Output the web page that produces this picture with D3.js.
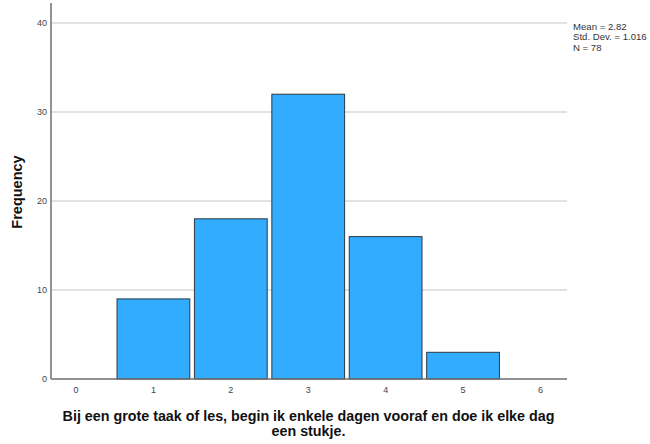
<!DOCTYPE html>
<html><head><meta charset="utf-8">
<script src="https://cdn.jsdelivr.net/npm/d3@7"></script>
<style>body{margin:0;background:#fff;} svg{display:block;}</style>
</head><body>
<svg id="c" width="650" height="444"></svg>
<script>
const categories = [1, 2, 3, 4, 5];
const frequencies = [9, 18, 32, 16, 3];
const xTicks = [0, 1, 2, 3, 4, 5, 6];
const yTicks = [0, 10, 20, 30, 40];
const statsLines = ["Mean = 2.82", "Std. Dev. = 1.016", "N = 78"];
const xTitleLines = ["Bij een grote taak of les, begin ik enkele dagen vooraf en doe ik elke dag", "een stukje."];
const yTitle = "Frequency";

(function () {
const svg = d3.select("#c");
const mLeft = 51, mRight = 567, mTop = 3, mBottom = 379;
const x = d3.scaleLinear().domain([-0.323, 6.343]).range([mLeft, mRight]);
const y = d3.scaleLinear().domain([0, 40]).range([mBottom, 23]);
const font = "Arial, 'Liberation Sans', sans-serif";

svg.append("g").selectAll("line").data(yTicks.filter(d => d > 0)).join("line")
  .attr("x1", mLeft).attr("x2", mRight)
  .attr("y1", d => y(d)).attr("y2", d => y(d))
  .attr("stroke", "#d9d9d9").attr("stroke-width", 1.5);

const hw = 0.47;
svg.append("g").selectAll("rect").data(categories).join("rect")
  .attr("x", d => x(d - hw))
  .attr("width", d => x(d + hw) - x(d - hw))
  .attr("y", (d, i) => y(frequencies[i]))
  .attr("height", (d, i) => mBottom - y(frequencies[i]))
  .attr("fill", "#31acfe").attr("stroke", "#2b3a44").attr("stroke-width", 1);

svg.append("line").attr("x1", mLeft).attr("x2", mLeft).attr("y1", mTop).attr("y2", mBottom)
  .attr("stroke", "#6e6e6e").attr("stroke-width", 1.5);
svg.append("line").attr("x1", mLeft).attr("x2", mRight).attr("y1", mBottom).attr("y2", mBottom)
  .attr("stroke", "#6e6e6e").attr("stroke-width", 1.5);

svg.append("g").selectAll("text").data(yTicks).join("text")
  .attr("x", mLeft - 4).attr("y", d => y(d)).attr("dy", "0.35em")
  .attr("text-anchor", "end").attr("font-family", font).attr("font-size", 9)
  .attr("fill", "#444").text(d => d);

svg.append("g").selectAll("text").data(xTicks).join("text")
  .attr("x", d => x(d)).attr("y", 393)
  .attr("text-anchor", "middle").attr("font-family", font).attr("font-size", 9)
  .attr("fill", "#444").text(d => d);

svg.append("text").attr("transform", "translate(21.5,192) rotate(-90)")
  .attr("text-anchor", "middle").attr("font-family", font).attr("font-size", 14.5)
  .attr("font-weight", "bold").attr("fill", "#111").text(yTitle);

svg.append("g").selectAll("text").data(xTitleLines).join("text")
  .attr("x", 308.5).attr("y", (d, i) => 420.5 + i * 15.5)
  .attr("text-anchor", "middle").attr("font-family", font).attr("font-size", 14.3)
  .attr("font-weight", "bold").attr("fill", "#111").text(d => d);

svg.append("g").selectAll("text").data(statsLines).join("text")
  .attr("x", 573).attr("y", (d, i) => 29.5 + i * 10.5)
  .attr("font-family", font).attr("font-size", 9.6).attr("fill", "#333").text(d => d);
})();
</script>
</body></html>
